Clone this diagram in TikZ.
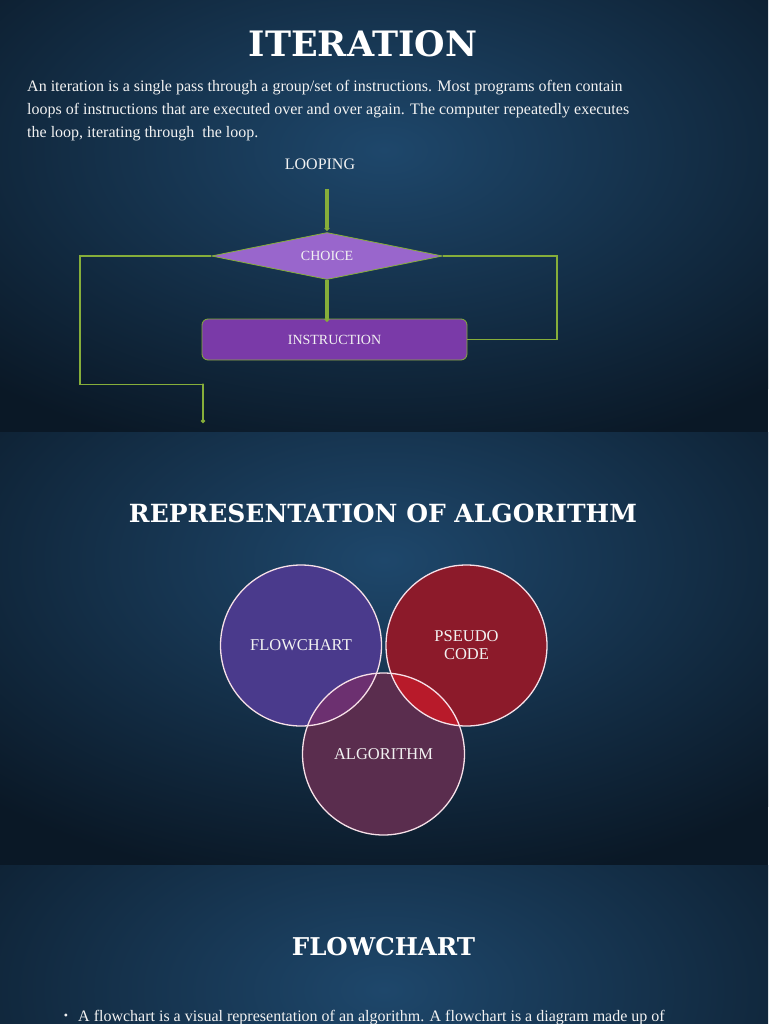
\documentclass[tikz,border=0pt]{standalone}
\usepackage{fontspec}
\setmainfont{Liberation Serif}
\newfontfamily\titlefont{DejaVu Serif}
\usetikzlibrary{shapes.geometric,arrows.meta}
\definecolor{bgdark}{HTML}{0A1826}
\definecolor{bglight}{HTML}{1E476B}
\definecolor{lgreen}{HTML}{86AE3A}
\definecolor{dmfill}{HTML}{9966CC}
\definecolor{rcfill}{HTML}{7A3AA8}
\definecolor{cflow}{HTML}{4A3A8C}
\definecolor{cpseudo}{HTML}{8C1A2A}
\definecolor{calgo}{HTML}{5A2D4E}
\definecolor{cfa}{HTML}{6C3070}
\definecolor{cpa}{HTML}{B81A2A}
\definecolor{txt}{HTML}{F2F2F2}
\tikzset{
  slidetitle/.style={text=white, font=\titlefont\bfseries\fontsize{#1}{#1}\selectfont, inner sep=0pt},
  bodytext/.style={text=txt, font=\fontsize{16}{18}\selectfont, inner sep=0pt, anchor=base west},
  flowlabel/.style={text=txt, font=\fontsize{14}{16}\selectfont},
  choicebox/.style={diamond, fill=dmfill, draw=lgreen, line width=0.8pt, minimum width=231pt, minimum height=47pt, inner sep=0pt, aspect=4.9, flowlabel},
  instrbox/.style={rectangle, rounded corners=6pt, fill=rcfill, draw=lgreen, line width=0.8pt, minimum width=265pt, minimum height=41pt, inner sep=0pt, flowlabel},
  thickarrow/.style={draw=lgreen, line width=3.2pt, -{Circle[length=4.5pt,width=4.5pt]}},
  loopline/.style={draw=lgreen, line width=1.1pt},
  venn/.style={circle, minimum size=161pt, inner sep=0pt, text=txt, font=\fontsize{16.5}{18}\selectfont, align=center},
  vennrim/.style={draw=white!88!purple, line width=1.3pt}
}
\begin{document}
\begin{tikzpicture}[x=1pt,y=-1pt]
\useasboundingbox (0,0) rectangle (768,1024);
% ---------- backgrounds ----------
\fill[bgdark] (0,0) rectangle (768,432);
\begin{scope}
  \clip (0,0) rectangle (768,432);
  \shade[inner color=bglight, outer color=bgdark] (384,150) ellipse [x radius=580pt, y radius=320pt];
\end{scope}
\fill[bgdark] (0,432) rectangle (768,865);
\begin{scope}
  \clip (0,432) rectangle (768,865);
  \shade[inner color=bglight, outer color=bgdark] (384,560) ellipse [x radius=580pt, y radius=330pt];
\end{scope}
\fill[bgdark] (0,865) rectangle (768,1024);
\begin{scope}
  \clip (0,865) rectangle (768,1024);
  \shade[inner color=bglight, outer color=bgdark] (384,990) ellipse [x radius=580pt, y radius=330pt];
\end{scope}
% ---------- slide 1 ----------
\node[slidetitle=35, anchor=base] (t1) at (363,57) {ITERATION};
\node[bodytext] (b1) at (27,92) {An iteration is a single pass through a group/set of instructions. Most programs often contain};
\node[bodytext] (b2) at (27,115) {loops of instructions that are executed over and over again. The computer repeatedly executes};
\node[bodytext] (b3) at (27,138) {the loop, iterating through\ \ the loop.};
\node[text=txt, font=\fontsize{16}{18}\selectfont, inner sep=0pt] (looping) at (320,164.5) {LOOPING};
\node[choicebox] (choice) at (327,256) {CHOICE};
\node[instrbox] (instr) at (334.5,339.5) {INSTRUCTION};
\coordinate (ain) at (327,189);
\draw[thickarrow] (ain) -- ([yshift=1.5pt]choice.north);
\draw[thickarrow] (choice.south) -- ([yshift=-3pt]instr.north -| choice.south);
% right loop
\coordinate (r1) at (557,300);
\draw[loopline] (choice.east) -| (r1) |- (instr.east);
% left loop
\coordinate (l1) at (80,256);
\coordinate (l2) at (80,384.5);
\coordinate (l3) at (203,384.5);
\coordinate (lend) at (203,423);
\draw[loopline] (choice.west) -- (l1) -- (l2);
\draw[draw=lgreen, line width=1.8pt] (l2) -- (l3);
\draw[draw=lgreen, line width=2.6pt, line cap=round, -{Circle[length=4pt,width=4pt]}] (l3) -- (lend);
% ---------- slide 2 ----------
\node[slidetitle=25, anchor=base] (t2) at (383,522) {REPRESENTATION OF ALGORITHM};
\fill[cflow] (301,645.5) circle [radius=80.5pt];
\fill[cpseudo] (466.5,645.5) circle [radius=80.5pt];
\fill[calgo] (383.5,754) circle [radius=81pt];
\begin{scope}
  \clip (383.5,754) circle [radius=81pt];
  \fill[cfa] (301,645.5) circle [radius=80.5pt];
  \fill[cpa] (466.5,645.5) circle [radius=80.5pt];
\end{scope}
\node[venn] (flow) at (301,645.5) {FLOWCHART};
\node[venn] (pseudo) at (466.5,645.5) {PSEUDO\\[0pt]CODE};
\node[venn, minimum size=162pt] (algo) at (383.5,754) {ALGORITHM};
\draw[vennrim] (flow.center) circle [radius=80.5pt];
\draw[vennrim] (pseudo.center) circle [radius=80.5pt];
\draw[vennrim] (algo.center) circle [radius=81pt];
% ---------- slide 3 ----------
\node[slidetitle=24.5, anchor=base] (t3) at (383.5,955) {FLOWCHART};
\node[text=txt, font=\fontsize{12}{12}\selectfont, inner sep=0pt, anchor=base] (bul) at (66,1019) {\textbullet};
\node[bodytext] (b4) at (78,1021) {A flowchart is a visual representation of an algorithm. A flowchart is a diagram made up of};
\end{tikzpicture}
\end{document}
